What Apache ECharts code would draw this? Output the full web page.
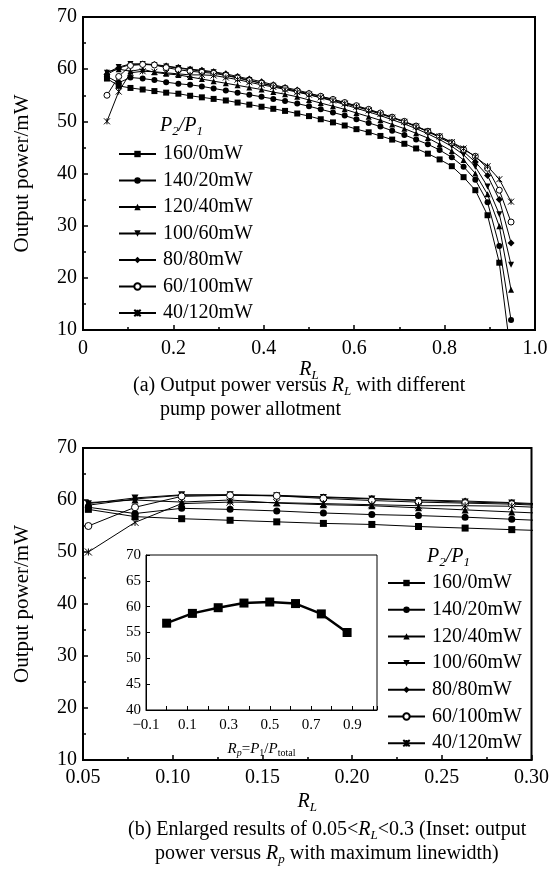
<!DOCTYPE html>
<html><head><meta charset="utf-8">
<script src="https://cdn.jsdelivr.net/npm/echarts@6/dist/echarts.min.js"></script>
<style>html,body{margin:0;padding:0;background:#fff}#c{width:552px;height:876px}</style>
</head><body><div id="c"></div>
<script>
// ---------- data ----------
const RL = [0.053,0.079,0.105,0.132,0.158,0.184,0.211,0.237,0.263,0.289,0.316,0.342,0.368,0.395,0.421,0.447,0.474,0.500,0.526,0.553,0.579,0.605,0.632,0.658,0.684,0.711,0.737,0.763,0.789,0.816,0.842,0.868,0.895,0.921,0.947];
const seriesNames = ['160/0mW','140/20mW','120/40mW','100/60mW','80/80mW','60/100mW','40/120mW'];
const p160_0  = [58.2,56.8,56.4,56.1,55.8,55.5,55.3,54.9,54.6,54.3,54.0,53.6,53.2,52.8,52.4,52.0,51.5,51.0,50.4,49.8,49.2,48.5,47.9,47.2,46.5,45.7,44.8,43.8,42.7,41.4,39.3,36.8,32.0,22.9,5.0];
const p140_20 = [58.6,57.4,58.4,58.2,57.9,57.5,57.2,57.0,56.7,56.3,55.9,55.5,55.1,54.7,54.3,53.9,53.4,52.9,52.3,51.7,51.1,50.4,49.7,49.0,48.2,47.4,46.5,45.6,44.5,43.1,41.3,38.8,34.5,26.1,11.9];
const p120_40 = [59.5,60.0,59.6,60.0,59.4,59.1,58.9,58.5,58.1,57.7,57.3,56.9,56.5,56.1,55.6,55.2,54.7,54.1,53.5,52.9,52.3,51.6,50.9,50.2,49.4,48.6,47.7,46.8,45.6,44.3,42.6,40.0,36.0,29.9,17.7];
const p100_60 = [59.3,60.4,61.0,61.0,60.8,60.5,60.2,59.9,59.6,59.4,58.9,58.4,57.9,57.3,56.8,56.3,55.7,55.1,54.5,53.9,53.2,52.5,51.8,51.1,50.3,49.5,48.6,47.6,46.5,45.2,43.6,41.3,37.5,32.2,22.5];
const p80_80  = [59.0,60.2,60.9,61.0,60.9,60.6,60.3,60.0,59.8,59.5,59.1,58.6,58.1,57.6,57.0,56.5,56.0,55.4,54.8,54.2,53.6,52.9,52.2,51.5,50.7,49.9,49.0,48.0,46.9,45.7,44.2,42.2,39.6,35.0,26.7];
const p60_100 = [55.0,58.6,60.7,60.9,60.8,60.3,59.9,59.6,59.4,59.2,58.8,58.3,57.8,57.3,56.8,56.3,55.8,55.3,54.8,54.2,53.6,53.0,52.3,51.6,50.8,50.0,49.1,48.1,47.1,45.9,44.6,43.3,41.0,36.8,30.7];
const p40_120 = [50.0,55.7,59.3,59.6,59.5,59.3,59.1,58.9,58.9,58.8,58.4,58.0,57.5,57.0,56.6,56.1,55.6,55.1,54.6,54.0,53.4,52.8,52.1,51.4,50.7,49.9,49.0,48.1,47.1,46.0,44.8,43.2,41.4,38.9,34.6];
const insetRp    = [0.0,0.125,0.25,0.375,0.5,0.625,0.75,0.875];
const insetPower = [56.8,58.7,59.8,60.7,60.9,60.6,58.6,55.0];

// ---------- styling ----------
const FONT = 'Liberation Serif';
const allSeriesData = [p160_0,p140_20,p120_40,p100_60,p80_80,p60_100,p40_120];
const symbols = ['rect','circle','triangle','path://M0,0L10,0L5,10Z','diamond','circle','path://M0,0L10,10M10,0L0,10M5,0L5,10'];
const symSizeTop = [6,6,6,6,7,6,6];
const symSizeBot = [7,7,7,7,7,7,7];
const rich = {
  i:{fontFamily:FONT,fontStyle:'italic',fontSize:20,color:'#000',lineHeight:24},
  s:{fontFamily:FONT,fontStyle:'italic',fontSize:13,color:'#000',lineHeight:14,verticalAlign:'bottom'},
  su:{fontFamily:FONT,fontSize:13,color:'#000',lineHeight:14,verticalAlign:'bottom'},
  n:{fontFamily:FONT,fontSize:20,color:'#000',lineHeight:24}
};
const richSmall = {
  i:{fontFamily:FONT,fontStyle:'italic',fontSize:15,color:'#000',lineHeight:18},
  n:{fontFamily:FONT,fontSize:15,color:'#000',lineHeight:18},
  s:{fontFamily:FONT,fontStyle:'italic',fontSize:10,color:'#000',lineHeight:10,verticalAlign:'bottom'},
  su:{fontFamily:FONT,fontSize:10,color:'#000',lineHeight:10,verticalAlign:'bottom'}
};

function mkSeries(gridIdx, sizes){
  return seriesNames.map((name,j)=>{
    let itemStyle = {color:'#000'};
    if (j===5) itemStyle = {color:'#fff',borderColor:'#000',borderWidth:1};
    if (j===6) itemStyle = {color:'#000',borderColor:'#000',borderWidth:1};
    return {
      name, type:'line', xAxisIndex:gridIdx, yAxisIndex:gridIdx,
      data: RL.map((x,i)=>[x, allSeriesData[j][i]]),
      symbol: symbols[j], symbolSize: sizes[j], showAllSymbol:true, clip:true,
      lineStyle:{color:'#000',width:1},
      itemStyle, emphasis:{disabled:true}, z: 3
    };
  });
}

const axisCommon = {
  axisLine:{show:true,onZero:false,lineStyle:{color:'#000',width:2}},
  axisTick:{show:true,inside:true,length:5,lineStyle:{color:'#000',width:1.5}},
  minorTick:{show:true,splitNumber:2,length:3,lineStyle:{color:'#000',width:1.5}},
  splitLine:{show:false}
};

const legends = [];
seriesNames.forEach((n,j)=>{
  legends.push({data:[n],left:118,top:144+26.5*j,orient:'vertical',itemWidth:37,itemHeight:8,itemGap:0,padding:0,
    selectedMode:false,textStyle:{fontFamily:FONT,fontSize:20,color:'#000',padding:[0,0,0,2]}});
  legends.push({data:[n],left:387,top:573+26.7*j,orient:'vertical',itemWidth:37,itemHeight:8,itemGap:0,padding:0,
    selectedMode:false,textStyle:{fontFamily:FONT,fontSize:20,color:'#000',padding:[0,0,0,2]}});
});

const yTitle = {name:'Output power/mW',nameLocation:'middle',nameGap:50,nameRotate:90,
      nameTextStyle:{fontFamily:FONT,fontSize:21,color:'#000'}};

const option = {
  animation:false,
  backgroundColor:'#fff',
  grid:[
    {left:83,top:17,width:452,height:313,show:true,borderColor:'#000',borderWidth:2,backgroundColor:'transparent'},
    {left:83,top:448,width:452,height:312,show:true,borderColor:'#000',borderWidth:2,backgroundColor:'transparent'},
    {left:146,top:555,width:231,height:155,show:true,borderColor:'#000',borderWidth:1,backgroundColor:'#fff',z:5}
  ],
  xAxis:[
    Object.assign({},axisCommon,{type:'value',gridIndex:0,min:0,max:1,interval:0.2,
      axisLabel:{fontFamily:FONT,fontSize:20,color:'#000',margin:9,formatter:v=>v===0?'0':(+v).toFixed(1)},
      name:'{i|R}{s|L}',nameLocation:'middle',nameGap:28,nameTextStyle:{rich}}),
    Object.assign({},axisCommon,{type:'value',gridIndex:1,min:0.05,max:0.3,interval:0.05,
      axisLabel:{fontFamily:FONT,fontSize:20,color:'#000',margin:8,formatter:v=>(+v).toFixed(2)},
      name:'{i|R}{s|L}',nameLocation:'middle',nameGap:30,nameTextStyle:{rich}}),
    {type:'value',gridIndex:2,min:-0.1,max:1.02,interval:0.2,z:6,
      axisLine:{show:true,onZero:false,lineStyle:{color:'#000',width:1}},
      axisTick:{show:true,inside:true,length:4,lineStyle:{color:'#000'}},
      minorTick:{show:true,splitNumber:2,length:4,lineStyle:{color:'#000'}},
      splitLine:{show:false},
      axisLabel:{fontFamily:FONT,fontSize:15,color:'#000',margin:8,showMaxLabel:false,
        formatter:v=>{const r=Math.round(v*10)/10; if(v>0.95) return ''; return r<0?'\u2212'+Math.abs(r).toFixed(1):r.toFixed(1);}},
      name:'{i|R}{s|p}{n|=}{i|P}{su|1}{n|/}{i|P}{su|total}',nameLocation:'middle',nameGap:30,nameTextStyle:{rich:richSmall}}
  ],
  yAxis:[
    Object.assign({},axisCommon,yTitle,{type:'value',gridIndex:0,min:10,max:70,interval:10,
      axisLabel:{fontFamily:FONT,fontSize:20,color:'#000',margin:6}}),
    Object.assign({},axisCommon,yTitle,{type:'value',gridIndex:1,min:10,max:70,interval:10,
      axisLabel:{fontFamily:FONT,fontSize:20,color:'#000',margin:6}}),
    {type:'value',gridIndex:2,min:40,max:70,interval:5,z:6,
      axisLine:{show:true,onZero:false,lineStyle:{color:'#000',width:1}},
      axisTick:{show:true,inside:true,length:4,lineStyle:{color:'#000'}},
      splitLine:{show:false},
      axisLabel:{fontFamily:FONT,fontSize:15,color:'#000',margin:5}}
  ],
  legend: legends,
  series: [
    ...mkSeries(0,symSizeTop),
    ...mkSeries(1,symSizeBot),
    {name:'inset',type:'line',xAxisIndex:2,yAxisIndex:2,z:10,
      data: insetRp.map((x,i)=>[x,insetPower[i]]),
      symbol:'rect',symbolSize:9,lineStyle:{color:'#000',width:2.5},itemStyle:{color:'#000'},emphasis:{disabled:true}}
  ],
  graphic:[
    {type:'text',left:160,top:116,style:{text:'{i|P}{s|2}{i|/P}{s|1}',rich}},
    {type:'text',left:427,top:547,style:{text:'{i|P}{s|2}{i|/P}{s|1}',rich}},
    {type:'text',left:133,top:376,style:{text:'{n|(a) Output power versus }{i|R}{s|L}{n| with different}',rich}},
    {type:'text',left:160,top:400,style:{text:'{n|pump power allotment}',rich}},
    {type:'text',left:128,top:820,style:{text:'{n|(b) Enlarged results of 0.05<}{i|R}{s|L}{n|<0.3 (Inset: output}',rich}},
    {type:'text',left:155,top:844,style:{text:'{n|power versus }{i|R}{s|p}{n| with maximum linewidth)}',rich}}
  ]
};
const chart = echarts.init(document.getElementById('c'),null,{renderer:'canvas'});
chart.setOption(option);
</script></body></html>
